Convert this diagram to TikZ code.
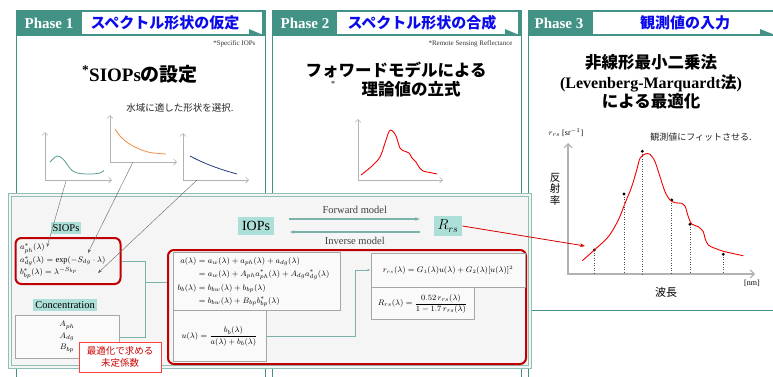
\documentclass[tikz,border=0pt]{standalone}
\usepackage{amsmath}
\usepackage{fontspec}
\setmainfont{Liberation Serif}
\newfontfamily\jp{Noto Sans CJK JP}
\usetikzlibrary{positioning, arrows.meta, calc}
\definecolor{teal1}{RGB}{66,146,134}
\definecolor{tealbg}{RGB}{172,223,215}
\definecolor{hblue}{RGB}{10,10,235}
\definecolor{dred}{RGB}{192,0,0}
\definecolor{curvered}{RGB}{240,0,0}
\definecolor{orng}{RGB}{240,140,70}
\definecolor{navy1}{RGB}{40,60,125}

\begin{document}
\begin{tikzpicture}[x=1pt, y=-1pt,
  panel/.style={draw=teal1, line width=0.9pt},
  phase/.style={text=white, font=\fontsize{15}{15}\selectfont\bfseries},
  headtxt/.style={text=hblue, font=\jp\fontsize{15}{15}\selectfont\bfseries},
  bigtitle/.style={font=\jp\fontsize{16.5}{19}\selectfont\bfseries, align=center},
  smallnote/.style={font=\fontsize{7}{8}\selectfont, text=black!80},
  jpsmall/.style={font=\jp\fontsize{9}{11}\selectfont, text=black!85},
  tag/.style={fill=tealbg, inner sep=2pt, font=\fontsize{10.5}{12}\selectfont},
  redbox/.style={draw=dred, line width=2pt, rounded corners=6pt},
  eqbox/.style={draw=gray!70, line width=0.9pt, fill=black!2, font=\fontsize{8}{11}\selectfont},
  chartaxis/.style={draw=gray!60, line width=0.6pt, {Straight Barb[length=3pt]}-{Straight Barb[length=3pt]}},
  ptr/.style={draw=gray!80!black, line width=0.4pt, -{Stealth[length=4pt]}},
  tealline/.style={draw=teal1!70, line width=1pt},
  modeltxt/.style={font=\fontsize{10.5}{12}\selectfont, text=black!75}]

\useasboundingbox (0,0) rectangle (773,376);
\clip (0,0) rectangle (773,376);

\draw[panel] (16,10) rectangle (265,390);
\draw[panel] (272,10) rectangle (521,390);
\draw[panel] (528,10) rectangle (790,310);
\draw[panel] (528,310) -- (528,390);

\fill[teal1] (16,10) rectangle (265,36);
\fill[white] (82,12) rectangle (262,34);
\fill[teal1] (249,29) -- (249,35) -- (263,35) -- cycle;
\fill[teal1] (272,10) rectangle (521,36);
\fill[white] (337,12) rectangle (518,34);
\fill[teal1] (505,29) -- (505,35) -- (519,35) -- cycle;
\fill[teal1] (528,10) rectangle (790,36);
\fill[white] (593,12) rectangle (790,34);
\fill[teal1] (760,29) -- (760,35) -- (775,35) -- cycle;

\node[phase] (ph1) at (49,23) {Phase 1};
\node[headtxt] (hd1) at (165,23) {スペクトル形状の仮定};
\node[phase] (ph2) at (305,23) {Phase 2};
\node[headtxt] (hd2) at (422,23) {スペクトル形状の合成};
\node[phase] (ph3) at (559,23) {Phase 3};
\node[headtxt] (hd3) at (685,23) {観測値の入力};

\node[smallnote, anchor=east] (spec) at (259,44) {*Specific IOPs};
\node[font=\fontsize{19}{19}\selectfont\bfseries] (siopset) at (140,74) {\textsuperscript{*}SIOPs{\jp の設定}};
\node[jpsmall, font=\jp\fontsize{9.5}{11}\selectfont] (choose) at (180,108) {水域に適した形状を選択.};

\draw[chartaxis] (45,132) -- (45,180) -- (112,180);
\draw[chartaxis] (110,115) -- (110,162) -- (177,162);
\draw[chartaxis] (183,133) -- (183,180) -- (249,180);
\draw[teal1!90, line width=0.8pt] plot[smooth] coordinates {(50,162) (57,156) (63,159) (72,170.5) (80,173.5) (92,174) (100,173) (104,170.5)};
\draw[orng, line width=0.8pt] plot[smooth] coordinates {(115,129) (120,136) (128,143) (138,148.5) (150,152.5) (166,154)};
\draw[navy1, line width=0.8pt] plot[smooth] coordinates {(190,156) (200,161) (212,166) (225,170.5) (237,174)};
\coordinate (c1) at (66,181);
\coordinate (c2) at (133,162);
\coordinate (c3) at (197,180);

\node[smallnote, anchor=east] (rsr) at (516,44) {*Remote Sensing Reflectance};
\node[bigtitle] (fwd1) at (396,70) {フォワードモデルによる};
\node[bigtitle] (fwd2) at (411,89) {理論値の立式};
\node[font=\fontsize{8}{8}\selectfont] (ast) at (333,84) {*};
\draw[chartaxis] (358,119) -- (358,180) -- (443,180);
\draw[curvered, line width=0.9pt] plot[smooth] coordinates {(361,175) (372,166) (380,157) (385,143) (389,131.5) (392,130.5) (396,136) (400,148) (404,151) (409,153) (412,158) (416,162) (419,167) (423,171) (430,172.5) (437,174)};

\node[bigtitle] (nls1) at (651,62) {非線形最小二乗法};
\node[font=\fontsize{16}{19}\selectfont\bfseries] (nls2) at (651,83) {(Levenberg-Marquardt{\jp 法})};
\node[bigtitle] (nls3) at (651,101) {による最適化};
\node[font=\fontsize{8}{9}\selectfont] (ylab) at (566,133) {$r_{rs}$ [sr$^{-1}$]};
\node[jpsmall] (fit) at (701,137) {観測値にフィットさせる.};
\node[font=\jp\fontsize{10.5}{11.5}\selectfont, align=center] (refl) at (555,189) {反\\射\\率};
\node[font=\jp\fontsize{11}{12}\selectfont] (wl) at (666,292) {波長};
\node[font=\fontsize{8}{9}\selectfont] (nm) at (752,283) {[nm]};
\draw[gray!60, line width=1.2pt, {Straight Barb[length=4pt]}-{Straight Barb[length=4pt]}] (568,143) -- (568,274) -- (755,274);
\foreach \px/\py in {594.3/250, 624/194, 642.3/151.3, 671.7/200, 690/224.3, 723.3/254.3} {
  \draw[black!70, dotted, line width=0.5pt] (\px,\py) -- (\px,274);
  \fill (\px,\py) circle (1.6);
}
\draw[curvered, line width=0.9pt] plot[smooth, tension=0.55] coordinates {(582.3,260.7) (594.3,250) (608.3,236.7) (618.3,220) (625,203.3) (631.7,186.7) (636.7,170) (640,158.3) (645,154) (650,154.3) (655,161.7) (660,176.7) (665,191.7) (670,200) (675,202.7) (681.7,203.3) (685,206) (688.3,216.7) (691.7,224) (698.3,226.7) (703.3,231.7) (705,238.3) (708.3,245) (715,248.3) (725,251.7) (743.3,255.7)};
\coordinate (obs) at (585,246);

\draw[teal1!60, line width=0.8pt, fill=black!4] (8,193) rectangle (531,368);
\draw[teal1!60, line width=0.8pt] (11,196) rectangle (528,365);

\node[tag] (siopstag) at (66,228) {SIOPs};
\node[redbox, minimum width=105, minimum height=46, text width=96, align=left, font=\fontsize{8.3}{12.5}\selectfont] (siops) at (68,261) {$a^*_{ph}(\lambda)$\\ $a^*_{dg}(\lambda)=\exp(-S_{dg}\cdot\lambda)$\\ $b^*_{bp}(\lambda)=\lambda^{-S_{bp}}$};
\node[tag] (conctag) at (65,305) {Concentration};
\node[eqbox, minimum width=104, minimum height=43, align=center, font=\fontsize{8}{11.5}\selectfont] (conc) at (67,337) {$A_{ph}$\\ $A_{dg}$\\ $B_{bp}$};
\node[draw=red!75, fill=white, text=red!80!black, minimum width=82, minimum height=30, inner sep=1pt, align=center, font=\jp\fontsize{9.5}{12}\selectfont] (unk) at (120,357) {最適化で求める\\未定係数};

\node[tag, inner sep=4pt, font=\fontsize{14}{14}\selectfont] (iops) at (256,226) {IOPs};
\node[tag, inner sep=4pt, font=\fontsize{14}{14}\selectfont] (rrs) at (448,226) {$R_{rs}$};
\draw[tealline, line width=1.4pt, -{Latex[length=5pt]}] ($(iops.east)+(15,-7)$) -- node[above=1pt, modeltxt] {Forward model} ($(rrs.west)+(-13,-7)$);
\draw[tealline, line width=1.4pt, -{Latex[length=5pt]}] ($(rrs.west)+(-13,6)$) -- node[below=1pt, modeltxt] {Inverse model} ($(iops.east)+(15,6)$);

\node[redbox, minimum width=358, minimum height=114] (fwdbox) at (347,307) {};
\node[eqbox, minimum width=167, minimum height=54, text width=158, align=left] (aeq) at (256.5,281) {$\begin{aligned} a(\lambda) &= a_w(\lambda)+a_{ph}(\lambda)+a_{dg}(\lambda)\\[-1pt] &= a_w(\lambda)+A_{ph}a^*_{ph}(\lambda)+A_{dg}a^*_{dg}(\lambda)\\[-1pt] b_b(\lambda) &= b_{bw}(\lambda)+b_{bp}(\lambda)\\[-1pt] &= b_{bw}(\lambda)+B_{bp}b^*_{bp}(\lambda)\end{aligned}$};
\node[eqbox, anchor=north west, minimum width=93, minimum height=51] (ueq) at (aeq.south west) {$u(\lambda)=\dfrac{b_b(\lambda)}{a(\lambda)+b_b(\lambda)}$};
\node[eqbox, minimum width=154, minimum height=34, font=\fontsize{7.6}{11}\selectfont] (rrseq) at (448,270) {$r_{rs}(\lambda)=G_1(\lambda)u(\lambda)+G_2(\lambda)[u(\lambda)]^2$};
\node[eqbox, anchor=north west, minimum width=103, minimum height=32] (Rrseq) at (rrseq.south west) {$R_{rs}(\lambda)=\dfrac{0.52\,r_{rs}(\lambda)}{1-1.7\,r_{rs}(\lambda)}$};
\draw[tealline, -{Latex[length=3pt]}] (ueq.east) -- ++(89,0) |- (rrseq.west);

\coordinate (jn) at ($(siops.east)+(24,0)$);
\coordinate (mid) at (145,282);
\draw[tealline] (siops.east) -- (jn) |- (conc.east);
\draw[tealline] (mid) -- (mid -| fwdbox.west);

\coordinate (t1) at (47,247);
\coordinate (t2) at (88,253);
\coordinate (t3) at (98,273);
\draw[ptr] (c1) -- (t1);
\draw[ptr] (c2) -- (t2);
\draw[ptr] (c3) -- (t3);
\draw[curvered!90!black, line width=0.8pt, -{Stealth[length=5pt]}] (rrs.east) -- (obs);
\end{tikzpicture}
\end{document}
